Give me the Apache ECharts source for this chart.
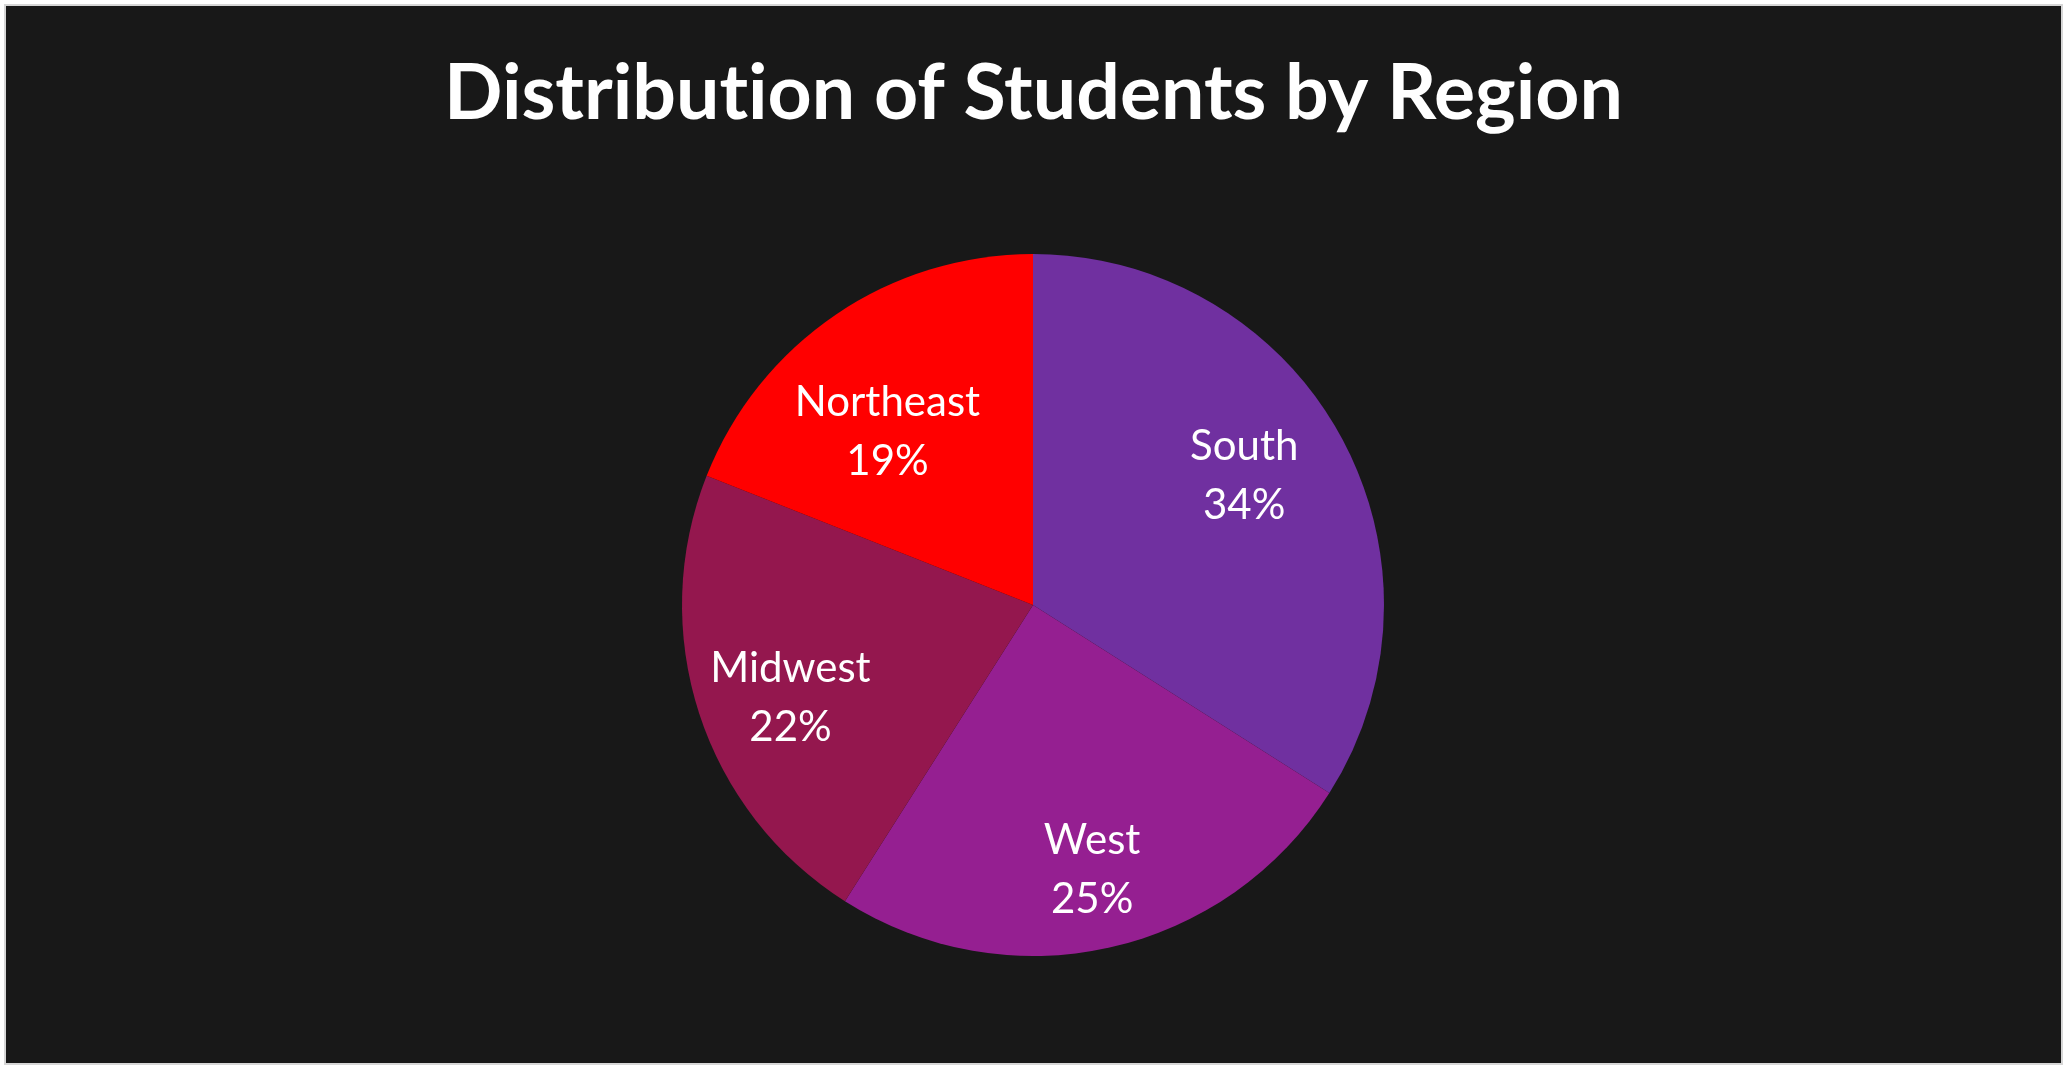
<!DOCTYPE html>
<html>
<head>
<meta charset="utf-8">
<script src="https://cdn.jsdelivr.net/npm/echarts@6/dist/echarts.min.js"></script>
<style>
  html, body { margin: 0; padding: 0; background: #ffffff; }
  #chart {
    position: absolute; left: 6px; top: 6px;
    width: 2055px; height: 1057px;
    background: #181818;
    box-shadow: 0 0 0 2px #d6d6d6;
  }
</style>
</head>
<body>
<div id="chart"></div>
<script>
const regions = ["South", "West", "Midwest", "Northeast"];
const shares = [34, 25, 22, 19];
const sliceColors = ["#7030A0", "#951F91", "#94174E", "#FF0000"];

// label placement (px): distance from pie centre plus a small nudge
const labelDist = [246, 268, 252, 223];
const labelPad = [[0, 14, 0, 0], [0, 0, 0, 0], [0, 0, 0, 0], [0, 37, 0, 0]];
const labelShift = [[0, -9], [0, 0], [0, 14], [0, 14]];

function renderPie(element) {
  var myChart = echarts.init(element, null, { width: 2055, height: 1057 });
  const center = [1027, 599];
  const slices = regions.map((name, i) => ({
    name: name,
    value: shares[i],
    itemStyle: { color: sliceColors[i] },
  }));

  // one transparent ring per label, so each label can sit at its own radius
  const labelSeries = regions.map((region, k) => ({
    type: "pie",
    center: center,
    radius: [labelDist[k] - 100, labelDist[k] + 100],
    startAngle: 90,
    clockwise: true,
    silent: true,
    percentPrecision: 0,
    itemStyle: { color: "rgba(0,0,0,0)", borderWidth: 0 },
    label: {
      show: true,
      position: "inside",
      formatter: "{b}\n{d}%",
      color: "#ffffff",
      fontFamily: "Lato",
      fontSize: 42,
      lineHeight: 59,
      textBorderWidth: 0,
      padding: labelPad[k],
      offset: labelShift[k],
    },
    labelLine: { show: false },
    data: regions.map((name, i) => ({
      name: name,
      value: shares[i],
      label: { show: i === k },
    })),
  }));

  const titleFont = {
    color: "#ffffff",
    fontFamily: "Lato",
    fontWeight: "bold",
    fontSize: 77,
  };

  const option = {
    backgroundColor: "#181818",
    animation: false,
    title: {
      // split in two runs so the font does not swap "ti" for a ligature
      text: "{t|Distribut}{t|ion of Students by Region}",
      left: "center",
      top: 45,
      textStyle: Object.assign({ rich: { t: titleFont } }, titleFont),
    },
    series: [
      {
        type: "pie",
        center: center,
        radius: [0, 351],
        startAngle: 90,
        clockwise: true,
        silent: true,
        label: { show: false },
        labelLine: { show: false },
        itemStyle: { borderWidth: 0 },
        data: slices,
      },
    ].concat(labelSeries),
  };
  myChart.setOption(option);
}

renderPie(document.getElementById("chart"));
</script>
</body>
</html>
